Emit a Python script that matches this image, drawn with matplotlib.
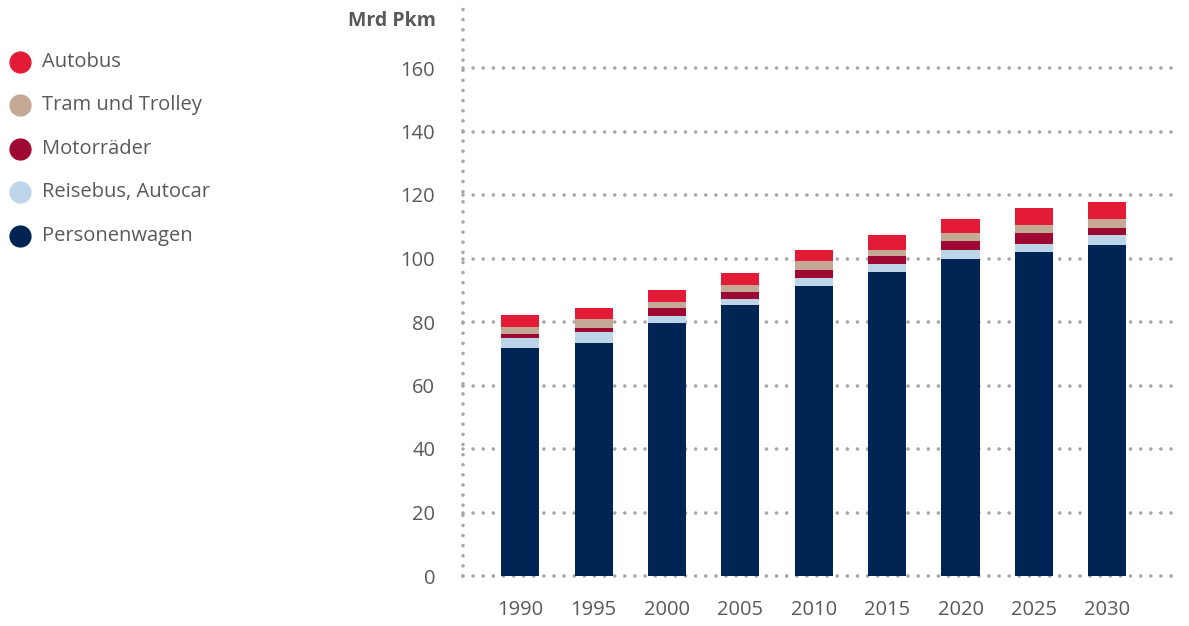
import matplotlib
matplotlib.use("Agg")
import matplotlib.pyplot as plt
from matplotlib.lines import Line2D
import numpy as np

plt.rcParams['font.family'] = ['Open Sans', 'DejaVu Sans']

years = ["1990", "1995", "2000", "2005", "2010", "2015", "2020", "2025", "2030"]
personenwagen = [71.9, 73.5, 79.8, 85.2, 91.2, 95.6, 100.0, 101.9, 104.4]
reisebus = [3.2, 3.2, 2.2, 2.2, 2.8, 2.8, 2.8, 2.8, 2.9]
motorraeder = [1.2, 1.5, 2.5, 2.2, 2.5, 2.5, 2.6, 3.2, 2.2]
tram = [2.2, 2.6, 1.9, 1.9, 2.6, 1.9, 2.5, 2.5, 2.8]
autobus = [3.8, 3.7, 3.8, 3.8, 3.7, 4.5, 4.4, 5.4, 5.4]

series = [
    ("Personenwagen", personenwagen, "#002454"),
    ("Reisebus, Autocar", reisebus, "#BDD5E9"),
    ("Motorräder", motorraeder, "#A00834"),
    ("Tram und Trolley", tram, "#C4AA96"),
    ("Autobus", autobus, "#E31B37"),
]
yticks = [0, 20, 40, 60, 80, 100, 120, 140, 160]

W, H = 1189, 626
fig = plt.figure(figsize=(W / 100, H / 100), dpi=100)
ax = fig.add_axes([463 / W, 1 - 576 / H, (1177 - 463) / W, 576 / H])

x = np.arange(len(years))
bottom = np.zeros(len(years))
for name, vals, col in series:
    ax.bar(x, vals, width=0.52, bottom=bottom, color=col, zorder=3, linewidth=0)
    bottom += np.array(vals)

ax.set_xlim(-0.78, 8.95)
ax.set_ylim(0, 576 / 3.175)

gridcol = "#A6A6A6"
for t in yticks:
    ax.axhline(t, color=gridcol, lw=2.6, ls=(0, (0.001, 2.8)),
               dash_capstyle='round', zorder=1, clip_on=False)
ax.axvline(-0.78, color=gridcol, lw=2.6, ls=(0, (0.001, 2.8)),
           dash_capstyle='round', zorder=1, clip_on=False)

for s in ax.spines.values():
    s.set_visible(False)

txtcol = "#595959"
ax.set_yticks(yticks)
ax.set_yticklabels([str(t) for t in yticks])
ax.set_xticks(x)
ax.set_xticklabels(years)
ax.tick_params(axis='y', length=0, pad=20, labelsize=14.5, labelcolor=txtcol)
ax.tick_params(axis='x', length=0, pad=17, labelsize=14.5, labelcolor=txtcol)

fig.text(436 / W, 1 - 21 / H, "Mrd Pkm", ha='right', va='center',
         fontsize=14, fontweight='bold', color=txtcol)

# legend (top to bottom)
for i, (name, vals, col) in enumerate(series[::-1]):
    yp = 1 - (62 + 43.4 * i) / H
    fig.add_artist(Line2D([20 / W], [yp], marker='o', markersize=15,
                          color=col, ls='', transform=fig.transFigure))
    fig.text(42 / W, yp, name, ha='left', va='center', fontsize=14.5, color=txtcol)

fig.savefig("out.png", dpi=100)
